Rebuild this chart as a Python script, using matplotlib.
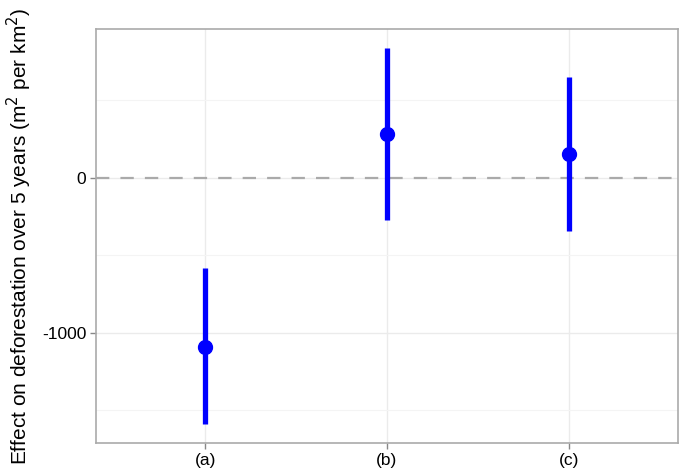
import numpy as np
import matplotlib.pyplot as plt
from matplotlib.ticker import MultipleLocator

plt.rcParams['font.family'] = ['Liberation Sans', 'DejaVu Sans']
plt.rcParams['axes.unicode_minus'] = False

labels = ["(a)", "(b)", "(c)"]
effect = [-1089, 284, 155]
lower = [-1590, -274, -345]
upper = [-582, 840, 653]

x = np.arange(1, len(labels) + 1)

fig = plt.figure(figsize=(6.84, 4.69), dpi=100)
ax = fig.add_axes([0.1404, 0.0554, 0.8506, 0.8826])

ax.set_axisbelow(True)
ax.grid(which="major", color="#ebebeb", linewidth=1.0)
ax.grid(which="minor", axis="y", color="#f4f4f4", linewidth=0.8)

ax.axhline(0, color="#aaaaaa", linestyle=(0, (6, 5)), linewidth=1.6, zorder=1)

ax.vlines(x, lower, upper, color="#0000ff", linewidth=3.8, zorder=3)
ax.plot(x, effect, "o", color="#0000ff", markersize=10, zorder=4)

ax.set_xlim(0.4, 3.6)
ax.set_ylim(-1711, 961)
ax.set_xticks(x)
ax.set_xticklabels(labels)
ax.set_yticks([-1000, 0])
ax.yaxis.set_minor_locator(MultipleLocator(500))
ax.tick_params(which="minor", length=0)
ax.tick_params(which="major", length=4, width=1, color="#888888",
               labelsize=12.5, labelcolor="black", pad=3)

for s in ax.spines.values():
    s.set_color("#aaaaaa")
    s.set_linewidth(1.2)

ax.set_ylabel("Effect on deforestation over 5 years (m$^2$ per km$^2$)",
              fontsize=15, labelpad=6)

fig.savefig("out.png", dpi=100)
